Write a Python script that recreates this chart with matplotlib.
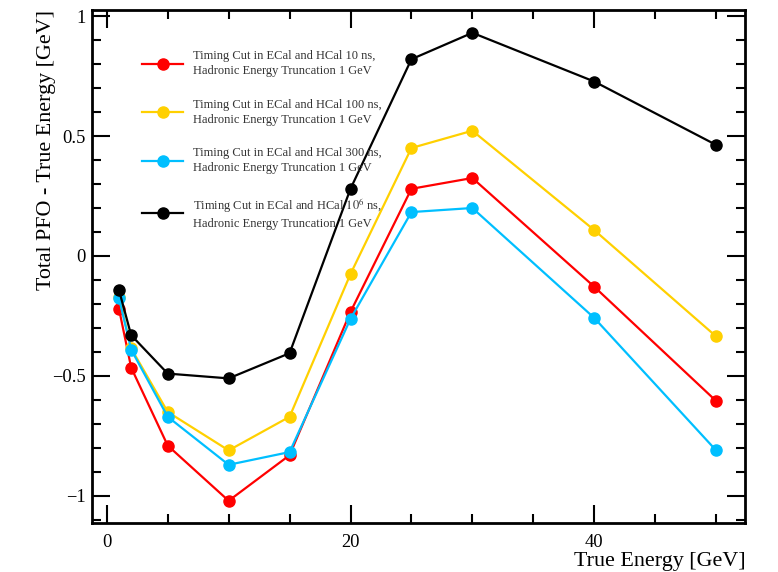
import matplotlib.pyplot as plt
from matplotlib.ticker import MultipleLocator, FuncFormatter

plt.rcParams['font.family'] = ['Liberation Serif', 'DejaVu Serif']
plt.rcParams['mathtext.fontset'] = 'stix'

energia = [1, 2, 5, 10, 15, 20, 25, 30, 40, 50]

corte_10ns = [-0.22, -0.465, -0.79, -1.02, -0.83, -0.233, 0.28, 0.325, -0.128, -0.604]
corte_100ns = [-0.17, -0.385, -0.65, -0.81, -0.67, -0.075, 0.45, 0.522, 0.108, -0.335]
corte_300ns = [-0.175, -0.39, -0.67, -0.87, -0.817, -0.262, 0.183, 0.2, -0.258, -0.81]
corte_1e6ns = [-0.142, -0.33, -0.49, -0.51, -0.405, 0.28, 0.82, 0.93, 0.727, 0.463]

rotulos = [
    'Timing Cut in ECal and HCal 10 ns,\nHadronic Energy Truncation 1 GeV',
    'Timing Cut in ECal and HCal 100 ns,\nHadronic Energy Truncation 1 GeV',
    'Timing Cut in ECal and HCal 300 ns,\nHadronic Energy Truncation 1 GeV',
    'Timing Cut in ECal and HCal $10^6$ ns,\nHadronic Energy Truncation 1 GeV',
]
cores = ['#ff0000', '#ffd000', '#00bfff', '#000000']

fig = plt.figure(figsize=(7.78, 5.72), dpi=100)
ax = fig.add_axes([0.118, 0.0857, 0.84, 0.8968])

for serie, cor, rotulo in zip([corte_10ns, corte_100ns, corte_300ns, corte_1e6ns], cores, rotulos):
    ax.plot(energia, serie, color=cor, lw=1.6, marker='o', ms=8, label=rotulo)

ax.set_xlim(-1.23, 52.4)
ax.set_ylim(-1.1125, 1.025)
ax.xaxis.set_major_locator(MultipleLocator(20))
ax.xaxis.set_minor_locator(MultipleLocator(5))
ax.yaxis.set_major_locator(MultipleLocator(0.5))
ax.yaxis.set_minor_locator(MultipleLocator(0.1))
ax.yaxis.set_major_formatter(FuncFormatter(lambda v, p: ('%g' % v).replace('-', '\u2212')))
ax.tick_params(which='both', direction='in', top=True, right=True, width=1.5, labelsize=13.3)
ax.tick_params(axis='x', pad=8)
ax.tick_params(axis='y', pad=4.5)
ax.tick_params(which='major', length=13)
ax.tick_params(which='minor', length=6.5)
for s in ax.spines.values():
    s.set_linewidth(2)

ax.set_xlabel('True Energy [GeV]', fontsize=15.8, loc='right', labelpad=1)
ax.set_ylabel('Total PFO - True Energy [GeV]', fontsize=15.8, loc='top', labelpad=-3)

leg = ax.legend(loc='upper left', bbox_to_anchor=(0.069, 0.932), frameon=False, fontsize=9,
                labelspacing=1.72, handlelength=3.3, handletextpad=0.8, borderaxespad=0)
for t in leg.get_texts():
    t.set_color('#333333')
    t.set_linespacing(1.35)

fig.savefig('out.png', dpi=100)
